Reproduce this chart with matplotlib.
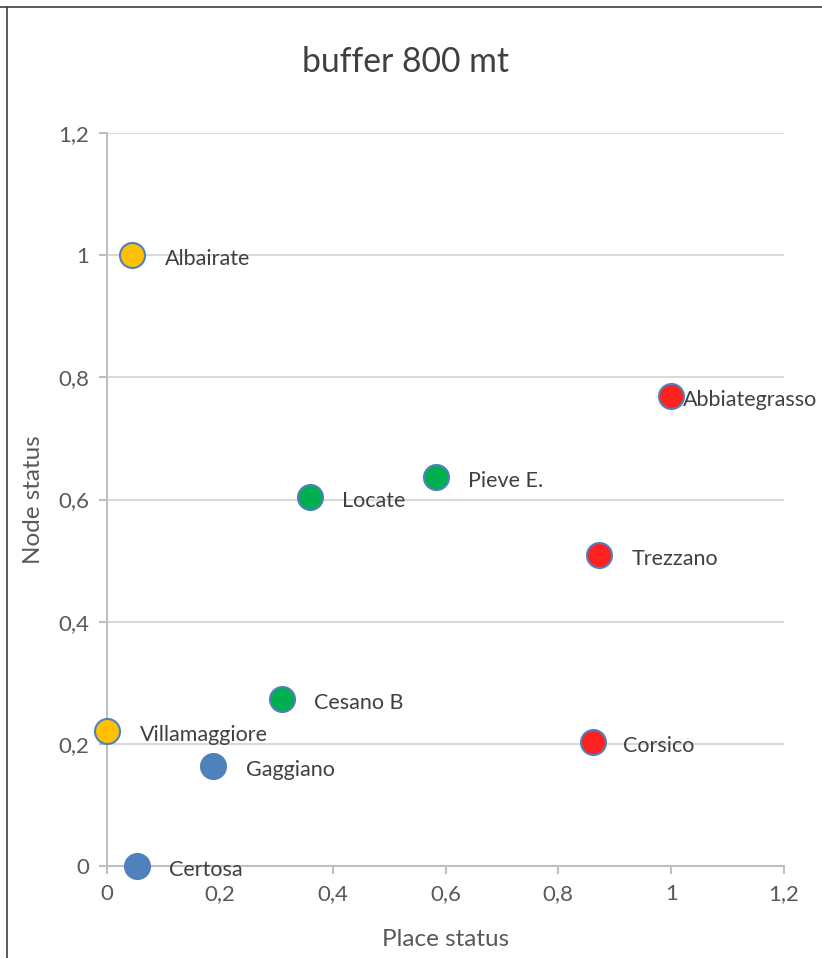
import matplotlib
matplotlib.use("Agg")
import matplotlib.pyplot as plt
from matplotlib.lines import Line2D

names = ["Albairate", "Abbiategrasso", "Pieve E.", "Locate", "Trezzano",
         "Cesano B", "Villamaggiore", "Corsico", "Gaggiano", "Certosa"]
place_status = [0.044, 1.0, 0.583, 0.36, 0.872, 0.31, 0.0, 0.861, 0.188, 0.053]
node_status = [1.0, 0.769, 0.637, 0.604, 0.509, 0.273, 0.221, 0.203, 0.164, 0.0]
colors = ["#FFC000", "#FF2020", "#00B050", "#00B050", "#FF2020",
          "#00B050", "#FFC000", "#FF2020", "#4F81BD", "#4F81BD"]
label_dx = [33, 12, 32, 32, 33, 32, 33, 30, 33, 32]
ticks = [0, 0.2, 0.4, 0.6, 0.8, 1.0, 1.2]
tick_labels = ["0", "0,2", "0,4", "0,6", "0,8", "1", "1,2"]

plt.rcParams['font.family'] = ['Lato', 'DejaVu Sans']

W, H = 822, 958
fig = plt.figure(figsize=(W / 100, H / 100), dpi=100)
ax = fig.add_axes([107 / W, 1 - 866 / H, (784 - 107) / W, (866 - 133) / H])

ax.set_xlim(0, 1.2)
ax.set_ylim(0, 1.2)
ax.set_xticks(ticks)
ax.set_xticklabels(tick_labels)
ax.set_yticks(ticks)
ax.set_yticklabels(tick_labels)
ax.yaxis.grid(True, color="#D9D9D9", linewidth=1.5)
ax.set_axisbelow(True)
for s in ["top", "right"]:
    ax.spines[s].set_visible(False)
for s in ["left", "bottom"]:
    ax.spines[s].set_color("#BFBFBF")
    ax.spines[s].set_linewidth(1.5)
ax.tick_params(axis="both", colors="#BFBFBF", length=6, width=1.5,
               labelcolor="#595959", labelsize=16)
ax.tick_params(axis="x", pad=7)
ax.tick_params(axis="y", pad=7)

for x, y, c, n, dx in zip(place_status, node_status, colors, names, label_dx):
    ax.plot([x], [y], marker="o", markersize=18, markerfacecolor=c,
            markeredgecolor="#4F81BD", markeredgewidth=1.5, linestyle="none",
            clip_on=False, zorder=3)
    ax.annotate(n, (x, y), xytext=(dx, -4), textcoords="offset pixels",
                ha="left", va="center", fontsize=15.5, color="#404040", zorder=4,
                annotation_clip=False)

ax.set_xlabel("Place status", fontsize=17.5, color="#595959", labelpad=18)
ax.set_ylabel("Node status", fontsize=17.5, color="#595959", labelpad=10)
fig.text(405 / W, 1 - 62 / H, "buffer 800 mt", ha="center", va="center",
         fontsize=24.3, color="#404040")

# chart border lines
fig.add_artist(Line2D([7 / W, 7 / W], [0, 1 - 7 / H], color="#404040", linewidth=1.2))
fig.add_artist(Line2D([0, 1], [1 - 7 / H, 1 - 7 / H], color="#404040", linewidth=1.2))

fig.savefig("out.png", dpi=100)
